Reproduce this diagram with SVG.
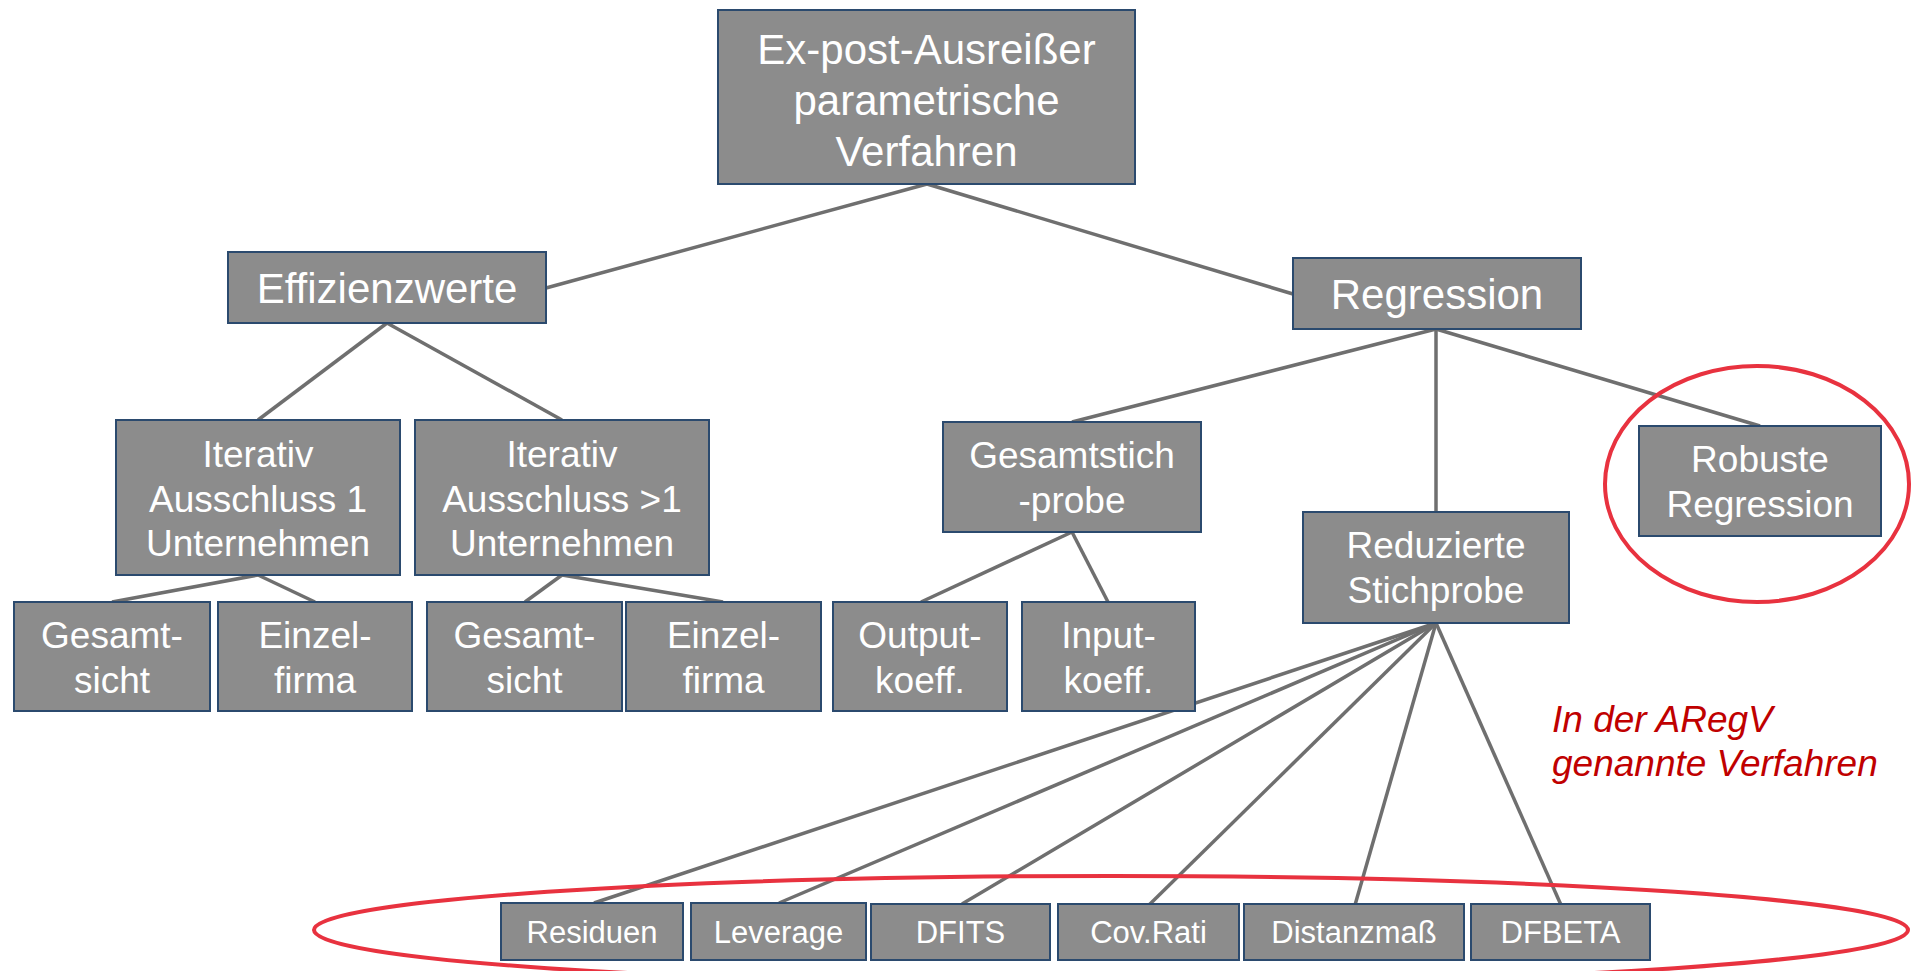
<svg xmlns="http://www.w3.org/2000/svg" width="1912" height="971" viewBox="0 0 1912 971">
<style>
.box{fill:#8c8c8c;stroke:#2b4a6e;stroke-width:2}
.t{fill:#ffffff;font-family:"Liberation Sans",Arial,sans-serif;text-anchor:middle}
.f42{font-size:42px}
.f37{font-size:37px}
.f31{font-size:31px}
.con line{stroke:#6f6f6f;stroke-width:3.5;stroke-linecap:butt}
.ring{fill:none;stroke:#e8323f;stroke-width:4}
.note{fill:#c00000;font-family:"Liberation Sans",Arial,sans-serif;font-style:italic;font-size:37px}
</style>
<rect width="1912" height="971" fill="#ffffff"/>
<g id="connectors" class="con">
<line x1="927" y1="184" x2="546" y2="288"/>
<line x1="927" y1="184" x2="1293" y2="294"/>
<line x1="387" y1="323" x2="258" y2="420"/>
<line x1="387" y1="323" x2="562" y2="420"/>
<line x1="258" y1="575" x2="112" y2="602"/>
<line x1="258" y1="575" x2="315" y2="602"/>
<line x1="562" y1="575" x2="525" y2="602"/>
<line x1="562" y1="575" x2="723" y2="602"/>
<line x1="1436" y1="329" x2="1072" y2="422"/>
<line x1="1436" y1="329" x2="1436" y2="512"/>
<line x1="1436" y1="329" x2="1760" y2="426"/>
<line x1="1072" y1="532" x2="921" y2="602"/>
<line x1="1072" y1="532" x2="1108" y2="602"/>
<line x1="1436" y1="623" x2="594" y2="903"/>
<line x1="1436" y1="623" x2="779" y2="903"/>
<line x1="1436" y1="623" x2="962" y2="904"/>
<line x1="1436" y1="623" x2="1149" y2="905"/>
<line x1="1436" y1="623" x2="1355" y2="905"/>
<line x1="1436" y1="623" x2="1561" y2="905"/>
</g>
<g id="n-root"><rect class="box" x="718" y="10" width="417" height="174"/><text class="t f42" x="926.5" y="64">Ex-post-Ausreißer</text><text class="t f42" x="926.5" y="115">parametrische</text><text class="t f42" x="926.5" y="166">Verfahren</text></g>
<g id="n-effizienz"><rect class="box" x="228" y="252" width="318" height="71"/><text class="t f42" x="387" y="303">Effizienzwerte</text></g>
<g id="n-regression"><rect class="box" x="1293" y="258" width="288" height="71"/><text class="t f42" x="1437" y="309">Regression</text></g>
<g id="n-iter1"><rect class="box" x="116" y="420" width="284" height="155"/><text class="t f37" x="258" y="467">Iterativ</text><text class="t f37" x="258" y="512">Ausschluss 1</text><text class="t f37" x="258" y="556">Unternehmen</text></g>
<g id="n-iter2"><rect class="box" x="415" y="420" width="294" height="155"/><text class="t f37" x="562" y="467">Iterativ</text><text class="t f37" x="562" y="512">Ausschluss &gt;1</text><text class="t f37" x="562" y="556">Unternehmen</text></g>
<g id="n-gesamt1"><rect class="box" x="14" y="602" width="196" height="109"/><text class="t f37" x="112" y="648">Gesamt-</text><text class="t f37" x="112" y="693">sicht</text></g>
<g id="n-einzel1"><rect class="box" x="218" y="602" width="194" height="109"/><text class="t f37" x="315" y="648">Einzel-</text><text class="t f37" x="315" y="693">firma</text></g>
<g id="n-gesamt2"><rect class="box" x="427" y="602" width="195" height="109"/><text class="t f37" x="524.5" y="648">Gesamt-</text><text class="t f37" x="524.5" y="693">sicht</text></g>
<g id="n-einzel2"><rect class="box" x="626" y="602" width="195" height="109"/><text class="t f37" x="723.5" y="648">Einzel-</text><text class="t f37" x="723.5" y="693">firma</text></g>
<g id="n-gesamtstich"><rect class="box" x="943" y="422" width="258" height="110"/><text class="t f37" x="1072" y="468">Gesamtstich</text><text class="t f37" x="1072" y="513">-probe</text></g>
<g id="n-output"><rect class="box" x="833" y="602" width="174" height="109"/><text class="t f37" x="920" y="648">Output-</text><text class="t f37" x="920" y="693">koeff.</text></g>
<g id="n-input"><rect class="box" x="1022" y="602" width="173" height="109"/><text class="t f37" x="1108.5" y="648">Input-</text><text class="t f37" x="1108.5" y="693">koeff.</text></g>
<g id="n-reduziert"><rect class="box" x="1303" y="512" width="266" height="111"/><text class="t f37" x="1436" y="558">Reduzierte</text><text class="t f37" x="1436" y="603">Stichprobe</text></g>
<g id="n-robust"><rect class="box" x="1639" y="426" width="242" height="110"/><text class="t f37" x="1760" y="472">Robuste</text><text class="t f37" x="1760" y="517">Regression</text></g>
<g id="n-residuen"><rect class="box" x="501" y="903" width="182" height="57"/><text class="t f31" x="592" y="943">Residuen</text></g>
<g id="n-leverage"><rect class="box" x="691" y="903" width="175" height="57"/><text class="t f31" x="778.5" y="943">Leverage</text></g>
<g id="n-dfits"><rect class="box" x="871" y="904" width="179" height="56"/><text class="t f31" x="960.5" y="943">DFITS</text></g>
<g id="n-covrati"><rect class="box" x="1058" y="904" width="181" height="56"/><text class="t f31" x="1148.5" y="943">Cov.Rati</text></g>
<g id="n-distanz"><rect class="box" x="1244" y="904" width="220" height="56"/><text class="t f31" x="1354" y="943">Distanzmaß</text></g>
<g id="n-dfbeta"><rect class="box" x="1471" y="904" width="179" height="56"/><text class="t f31" x="1560.5" y="943">DFBETA</text></g>
<g id="highlights">
<ellipse class="ring" cx="1757" cy="484" rx="152" ry="118"/>
<ellipse class="ring" cx="1111" cy="930" rx="797" ry="54"/>
</g>
<g id="note"><text class="note" x="1552" y="732">In der ARegV</text><text class="note" x="1552" y="776">genannte Verfahren</text></g>
</svg>
